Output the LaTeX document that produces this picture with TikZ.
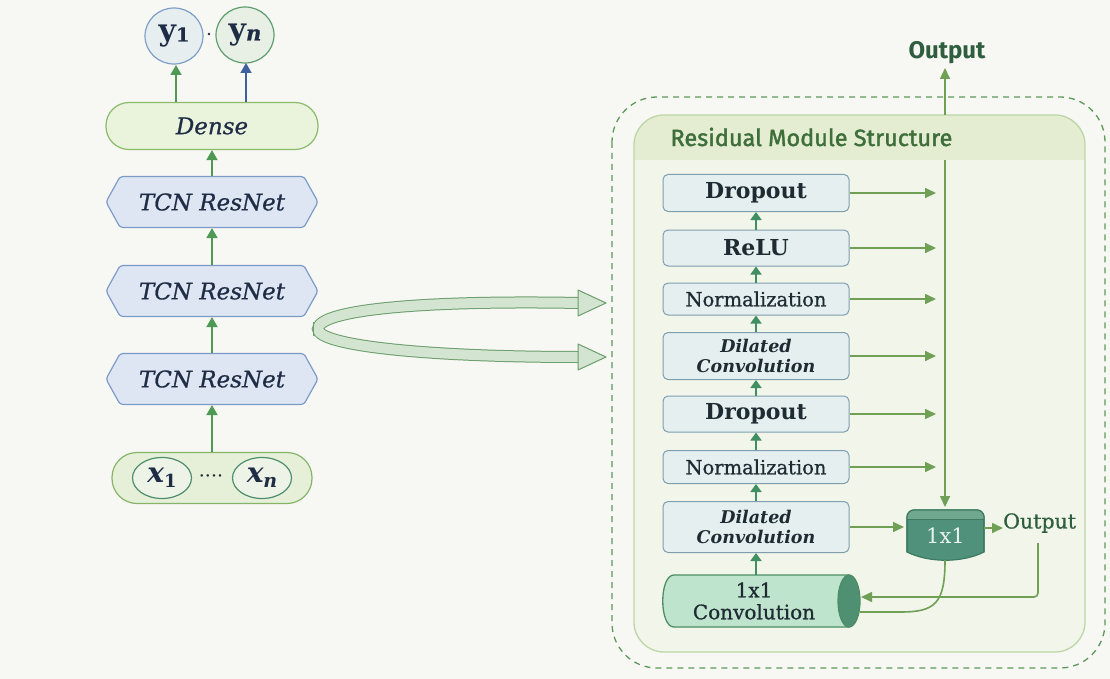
\documentclass[tikz,border=0pt]{standalone}
\usepackage{fontspec}
\setmainfont{DejaVu Serif}
\newfontfamily\titlefont[FakeBold=1.6]{Fira Sans}
\newfontfamily\outfont{Fira Sans}
\newfontfamily\medserif[FakeBold=0.8]{DejaVu Serif}
\usetikzlibrary{arrows.meta,shapes.geometric,shapes.symbols,calc}
\definecolor{bgc}{HTML}{F7F7F4}
\definecolor{txt}{HTML}{1F2B33}
\definecolor{tcntxt}{HTML}{1E2C45}
\definecolor{densefill}{HTML}{EAF3DC}
\definecolor{denseline}{HTML}{8CBB6A}
\definecolor{tcnfill}{HTML}{DEE6F3}
\definecolor{tcnline}{HTML}{7D9BC7}
\definecolor{infill}{HTML}{E6F0D8}
\definecolor{inline}{HTML}{86B56A}
\definecolor{xfill}{HTML}{EDF3E6}
\definecolor{xline}{HTML}{4E8E6E}
\definecolor{yonefill}{HTML}{E6EEF0}
\definecolor{yoneline}{HTML}{7E9EC8}
\definecolor{ynfill}{HTML}{E8F0E6}
\definecolor{ynline}{HTML}{5E9E6E}
\definecolor{arrL}{HTML}{4E9A55}
\definecolor{arrBlue}{HTML}{3E5FA0}
\definecolor{ribfill}{HTML}{D3E5D0}
\definecolor{ribline}{HTML}{6A9E6A}
\definecolor{dashc}{HTML}{5E9A5A}
\definecolor{panelfill}{HTML}{F2F5EA}
\definecolor{headfill}{HTML}{E4EDD2}
\definecolor{panelline}{HTML}{BDD6A6}
\definecolor{titlec}{HTML}{3E6E3A}
\definecolor{sfill}{HTML}{E5EFEF}
\definecolor{sline}{HTML}{7E9FB0}
\definecolor{arrR}{HTML}{6FA055}
\definecolor{arrS}{HTML}{3F8F63}
\definecolor{kfill}{HTML}{4F917A}
\definecolor{ktop}{HTML}{6FA88F}
\definecolor{kline}{HTML}{3E7A62}
\definecolor{cylbody}{HTML}{BFE4CD}
\definecolor{cylline}{HTML}{4E8E66}
\definecolor{cylend}{HTML}{4F8F72}
\definecolor{outc}{HTML}{2E5E3E}
\begin{document}
\begin{tikzpicture}[x=1pt,y=-1pt,
  tcn/.style={signal, signal to=east and west, signal pointer angle=122,
    minimum width=212pt, minimum height=51pt, inner sep=0pt, rounded corners=3pt,
    draw=tcnline, fill=tcnfill, line width=1.2pt, text=tcntxt,
    font=\medserif\fontsize{23}{25}\selectfont\itshape},
  dense/.style={rectangle, rounded corners=23pt, minimum width=212pt, minimum height=47pt,
    draw=denseline, fill=densefill, line width=1.2pt, text=tcntxt,
    font=\medserif\fontsize{23}{25}\selectfont\itshape},
  ycirc/.style={ellipse, minimum width=58pt, minimum height=56pt, inner sep=0pt, line width=1.2pt, text=tcntxt},
  xell/.style={ellipse, minimum width=59pt, minimum height=41pt, inner sep=0pt, line width=1.2pt,
    draw=xline, fill=xfill, text=tcntxt},
  arrowL/.style={draw=arrL, line width=1.8pt, -{Triangle[length=10pt,width=11pt]}},
  sbox/.style={rectangle, rounded corners=5pt, draw=sline, fill=sfill, line width=1pt,
    minimum width=186pt, inner sep=0pt, align=center, text=txt},
  arrowR/.style={draw=arrR, line width=1.6pt, -{Triangle[length=11pt,width=10pt]}},
  arrowS/.style={draw=arrS, line width=1.6pt, -{Triangle[length=8pt,width=11pt]}},
  lineR/.style={draw=arrR, line width=1.6pt}
]
\fill[bgc] (0,0) rectangle (1110,679);
\useasboundingbox (0,0) rectangle (1110,679);

% ---------- left column ----------
\node[ycirc, draw=yoneline, fill=yonefill] (y1) at (174,36)
  {\fontsize{30}{30}\selectfont\bfseries y\raisebox{-1pt}{\fontsize{19}{19}\selectfont\medserif 1}};
\node[ycirc, draw=ynline, fill=ynfill] (yn) at (245,35)
  {\fontsize{30}{30}\selectfont\bfseries y\raisebox{-1pt}{\fontsize{21}{21}\selectfont\medserif\itshape n}};
\node[circle, fill=txt, inner sep=0.9pt] (ydot) at (209,34) {};

\node[dense] (dense) at (212,126) {Dense};
\draw[arrowL] (dense.north -| 176,0) -- (176,65);
\draw[arrowL, draw=arrBlue] (dense.north -| 246,0) -- (246,63);

\node[tcn] (t3) at (212,202) {TCN ResNet};
\node[tcn] (t2) at (212,291) {TCN ResNet};
\node[tcn] (t1) at (212,379) {TCN ResNet};

\node[rectangle, rounded corners=25pt, minimum width=200pt, minimum height=51pt,
  draw=inline, fill=infill, line width=1.2pt] (in) at (212,478) {};
\node[xell] (x1) at (162,478) {\fontsize{28}{28}\selectfont\bfseries\itshape x\raisebox{-5pt}{\fontsize{18}{18}\selectfont\upshape 1}};
\node[xell] (xn) at (262,478) {\fontsize{28}{28}\selectfont\bfseries\itshape x\raisebox{-5pt}{\fontsize{19}{19}\selectfont n}};
\node[text=txt, inner sep=0pt] (xdots) at (211,479) {\fontsize{19}{19}\selectfont ····};

\draw[arrowL] (t3.north) -- (dense.south);
\draw[arrowL] (t2.north) -- (t3.south);
\draw[arrowL] (t1.north) -- (t2.south);
\draw[arrowL] (in.north) -- (t1.south);

% ---------- ribbon arrow ----------
\coordinate (rA) at (606,303);
\coordinate (rB) at (606,357);
\draw[line width=1pt, draw=ribline, double=ribfill, double distance=10pt]
  (580,303) .. controls (420,300) and (318,310) .. (318,329)
  .. controls (318,345) and (420,357) .. (580,357);
\draw[ribline, line width=1pt] (313,322) -- (313,336);
\filldraw[fill=ribfill, draw=ribline, line width=1pt, line join=round]
  (578,290) -- (rA) -- (578,316) -- cycle;
\filldraw[fill=ribfill, draw=ribline, line width=1pt, line join=round]
  (578,344) -- (rB) -- (578,370) -- cycle;

% ---------- right panel ----------
\draw[dashc, line width=1.3pt, dash pattern=on 6pt off 5pt, rounded corners=45pt]
  (612,97) rectangle (1105,668);
\fill[panelfill, rounded corners=30pt] (634,115) rectangle (1085,652);
\begin{scope}
  \clip[rounded corners=30pt] (634,115) rectangle (1085,652);
  \fill[headfill] (634,115) rectangle (1085,160);
\end{scope}
\draw[panelline, line width=1.3pt, rounded corners=30pt] (634,115) rectangle (1085,652);
\node[anchor=west, text=titlec, font=\titlefont\fontsize{23.5}{25}\selectfont] (title) at (667,137)
  {Residual Module Structure};

\node[text=outc, font=\outfont\bfseries\fontsize{24}{25}\selectfont] (out) at (947,53) {Output};
\coordinate (vtop2) at (945,115);
\draw[arrowR] (vtop2) -- (945,68);

% stack
\node[sbox, minimum height=37pt, font=\fontsize{22}{23}\selectfont\bfseries] (b1) at (756,193) {Dropout};
\node[sbox, minimum height=36pt, font=\fontsize{22}{23}\selectfont\bfseries] (b2) at (756,248) {ReLU};
\node[sbox, minimum height=32pt, font=\medserif\fontsize{19.5}{21}\selectfont] (b3) at (756,299) {Normalization};
\node[sbox, minimum height=47pt, font=\fontsize{17.5}{19.5}\selectfont\bfseries\itshape] (b4) at (756,356) {Dilated\\Convolution};
\node[sbox, minimum height=36pt, font=\fontsize{22}{23}\selectfont\bfseries] (b5) at (756,414) {Dropout};
\node[sbox, minimum height=33pt, font=\medserif\fontsize{19.5}{21}\selectfont] (b6) at (756,467) {Normalization};
\node[sbox, minimum height=51pt, font=\fontsize{17.5}{20.5}\selectfont\bfseries\itshape] (b7) at (756,527) {Dilated\\Convolution};

% cylinder
\filldraw[fill=cylbody, draw=cylline, line width=1.3pt]
  (849,575) -- (674,575) .. controls (659,575) and (659,627) .. (674,627) -- (849,627) -- cycle;
\filldraw[fill=cylend, draw=cylline, line width=1.3pt] (849,601) ellipse [x radius=11, y radius=26];
\node[rectangle, minimum width=198pt, minimum height=52pt, inner sep=0pt, align=center,
  text=txt, font=\medserif\fontsize{20}{22}\selectfont] (cyl) at (754,601) {1x1\\Convolution};

% 1x1 block
\filldraw[fill=kfill, draw=kline, line width=1.2pt]
  (907,552) [rounded corners=7pt]-- (907,510) -- (984,510) [sharp corners]-- (984,552)
  .. controls (962,563) and (929,563) .. (907,552) -- cycle;
\begin{scope}
  \clip[rounded corners=7pt] (907,510) rectangle (984,540);
  \fill[ktop] (907,510) rectangle (984,519);
\end{scope}
\draw[kline, line width=1pt] (908,519) -- (983,519);
\draw[kline, line width=1.2pt, rounded corners=7pt] (907,552) -- (907,510) -- (984,510) -- (984,552);
\node[rectangle, minimum width=77pt, minimum height=48pt, inner sep=0pt, text=white!88!kfill,
  font=\fontsize{21}{22}\selectfont] (kk) at (945.5,536) {1x1};

\node[anchor=west, text=outc, inner sep=0pt, font=\medserif\fontsize{20.5}{22}\selectfont] (out2) at (1003,523) {Output};

% stack arrows
\draw[arrowS] (b6.north) -- (b5.south);
\draw[arrowS] (b5.north) -- (b4.south);
\draw[arrowS] (b4.north) -- (b3.south);
\draw[arrowS] (b3.north) -- (b2.south);
\draw[arrowS] (b2.north) -- (b1.south);
\draw[arrowS] (b7.north) -- (b6.south);
\draw[arrowS] (cyl.north -| b7.south) -- (b7.south);

% side arrows
\coordinate (tip) at (936,0);
\foreach \b in {b1,b2,b3,b4,b5,b6} {
  \draw[arrowR] (\b.east) -- (\b.east -| tip);
}
\coordinate (vtop) at (945,160);
\draw[arrowR] (vtop) -- (945,507);
\draw[arrowR] (b7.east) -- (b7.east -| 904,0);
\draw[arrowR] (984,528) -- (out2.west |- 984,528);

% return paths
\coordinate (ret) at (1038,543);
\draw[arrowR, rounded corners=4pt] (ret) -- (1038,597) -- (861,597);
\draw[lineR] (945,560) .. controls (945,604) and (935,612) .. (900,612) -- (860,612);
\end{tikzpicture}
\end{document}
